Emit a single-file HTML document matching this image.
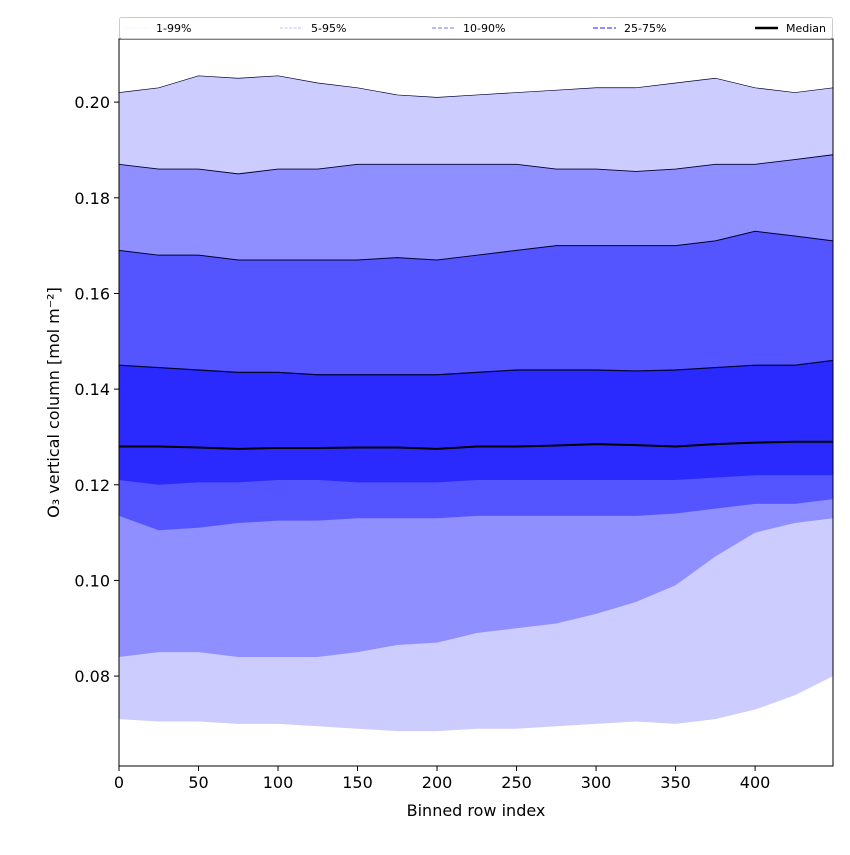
<!DOCTYPE html>
<html><head><meta charset="utf-8"><style>
body{margin:0;background:#fff;}
svg text{font-family:"DejaVu Sans","Liberation Sans",sans-serif;}
</style></head><body>
<svg id="chart" width="850" height="850" xmlns="http://www.w3.org/2000/svg"></svg>
<script>
const xs = [0,25,50,75,100,125,150,175,200,225,250,275,300,325,350,375,400,425,449];
const p1  = [0.071,0.0705,0.0705,0.070,0.070,0.0695,0.069,0.0685,0.0685,0.069,0.069,0.0695,0.070,0.0705,0.070,0.071,0.073,0.076,0.080];
const p5  = [0.084,0.085,0.085,0.084,0.084,0.084,0.085,0.0865,0.087,0.089,0.090,0.091,0.093,0.0955,0.099,0.105,0.110,0.112,0.113];
const p10 = [0.1135,0.1105,0.111,0.112,0.1125,0.1125,0.113,0.113,0.113,0.1135,0.1135,0.1135,0.1135,0.1135,0.114,0.115,0.116,0.116,0.117];
const p25 = [0.121,0.120,0.1205,0.1205,0.121,0.121,0.1205,0.1205,0.1205,0.121,0.121,0.121,0.121,0.121,0.121,0.1215,0.122,0.122,0.122];
const p50 = [0.128,0.128,0.1278,0.1275,0.1277,0.1277,0.1278,0.1278,0.1275,0.128,0.128,0.1282,0.1285,0.1283,0.128,0.1285,0.1288,0.129,0.129];
const p75 = [0.145,0.1445,0.144,0.1435,0.1435,0.143,0.143,0.143,0.143,0.1435,0.144,0.144,0.144,0.1438,0.144,0.1445,0.145,0.145,0.146];
const p90 = [0.169,0.168,0.168,0.167,0.167,0.167,0.167,0.1675,0.167,0.168,0.169,0.170,0.170,0.170,0.170,0.171,0.173,0.172,0.171];
const p95 = [0.187,0.186,0.186,0.185,0.186,0.186,0.187,0.187,0.187,0.187,0.187,0.186,0.186,0.1855,0.186,0.187,0.187,0.188,0.189];
const p99 = [0.202,0.203,0.2055,0.205,0.2055,0.204,0.203,0.2015,0.201,0.2015,0.202,0.2025,0.203,0.203,0.204,0.205,0.203,0.202,0.203];
const xTicks = [0,50,100,150,200,250,300,350,400];
const yTicks = [0.08,0.10,0.12,0.14,0.16,0.18,0.20];
const legendLabels = ["1-99%","5-95%","10-90%","25-75%","Median"];

const L=119,R=833,T=39,B=766,xMin=0,xMax=449,yMin=0.0612,yMax=0.2132;
const sx=v=>L+(v-xMin)/(xMax-xMin)*(R-L);
const sy=v=>B-(v-yMin)/(yMax-yMin)*(B-T);
const NS="http://www.w3.org/2000/svg";
const svg=document.getElementById('chart');
function mk(t,a,p){const e=document.createElementNS(NS,t);for(const k in a)e.setAttribute(k,a[k]);(p||svg).appendChild(e);return e;}
const pts=a=>a.map((v,i)=>sx(xs[i])+','+sy(v));
function band(lo,hi,col,name){
  const e=mk('polygon',{points:pts(lo).concat(pts(hi).reverse()).join(' '),fill:col});
  
  
}
band(p1,p99,'#ccccff','band-1-99');
band(p5,p95,'#8f8fff','band-5-95');
band(p10,p90,'#5555ff','band-10-90');
band(p25,p75,'#2a2aff','band-25-75');
[[p99,0.7],[p95,0.9],[p90,1.0],[p75,1.2]].forEach(([a,w])=>{
  const e=mk('polyline',{points:pts(a).join(' '),fill:'none',stroke:'#000030','stroke-width':w});
  
  
});
const med=mk('polyline',{points:pts(p50).join(' '),fill:'none',stroke:'#000','stroke-width':2});


mk('rect',{x:L,y:T,width:R-L,height:B-T,fill:'none',stroke:'#000','stroke-width':1});
xTicks.forEach(t=>{
  mk('line',{x1:sx(t),x2:sx(t),y1:B,y2:B+5,stroke:'#000'});
  const tx=mk('text',{x:sx(t),y:B+22,'text-anchor':'middle','font-size':16});tx.textContent=t;
  
  
});
yTicks.forEach(t=>{
  mk('line',{x1:L-5,x2:L,y1:sy(t),y2:sy(t),stroke:'#000'});
  const tx=mk('text',{x:L-9,y:sy(t)+6,'text-anchor':'end','font-size':16});tx.textContent=t.toFixed(2);
  
  
});
const xl=mk('text',{x:(L+R)/2,y:816,'text-anchor':'middle','font-size':16});xl.textContent='Binned row index';


const yl=mk('text',{x:59,y:(T+B)/2,'text-anchor':'middle','font-size':16,transform:`rotate(-90 59 ${(T+B)/2})`});yl.textContent='O₃ vertical column [mol m⁻²]';


const lg=mk('g',{});


mk('rect',{x:119.5,y:17.5,width:713,height:21,fill:'#fff',stroke:'#ccc',rx:2},lg);
const lx=[125,280,432,593,755];
const lcol=['#e0e0ff','#b0b0ff','#8f8fff','#6a6aff','#000'];
const lw=[0.6,0.8,1.2,1.6,2.5];
const ld=['2,1','3,1.5','4,2','5,2','none'];
legendLabels.forEach((s,i)=>{
  const g=mk('g',{},lg);
  
  
  mk('line',{x1:lx[i],x2:lx[i]+23,y1:28,y2:28,stroke:lcol[i],'stroke-width':lw[i],'stroke-dasharray':ld[i]},g);
  const t=mk('text',{x:lx[i]+31,y:32,'font-size':11},g);t.textContent=s;
});
</script>
</body></html>
